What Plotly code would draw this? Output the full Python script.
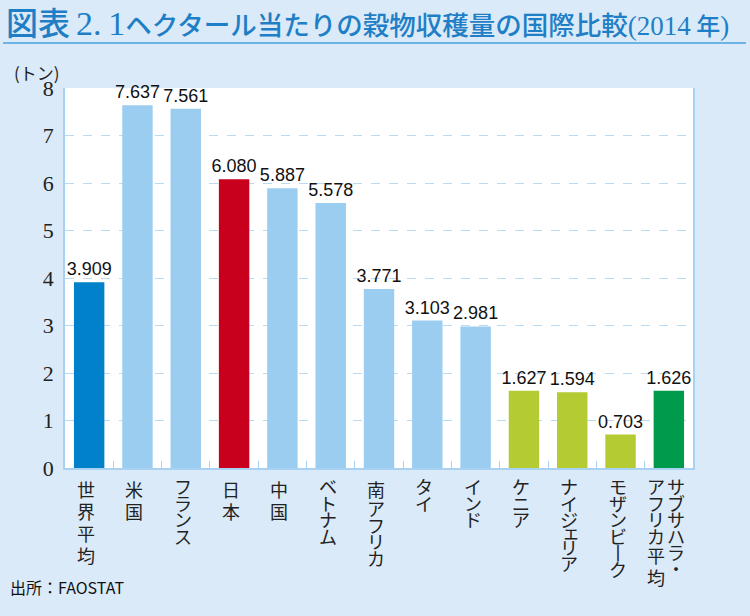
import plotly.graph_objects as go

categories = ["世界平均", "米国", "フランス", "日本", "中国", "ベトナム", "南アフリカ",
              "タイ", "インド", "ケニア", "ナイジェリア", "モザンビーク", "サブサハラ・アフリカ平均"]
values = [3.909, 7.637, 7.561, 6.080, 5.887, 5.578, 3.771, 3.103, 2.981, 1.627, 1.594, 0.703, 1.626]
groups = ["world", "dev", "dev", "japan", "dev", "dev", "dev", "dev", "dev",
          "africa", "africa", "africa", "ssa"]
group_colors = {"world": "#0081C9", "dev": "#9BCDF1", "japan": "#C8001E",
                "africa": "#B5CB33", "ssa": "#009A4B"}
y_ticks = [0, 1, 2, 3, 4, 5, 6, 7, 8]

W, H = 750, 616
ML, MR, MT, MB = 65, 57, 88, 148
PW, PH = W - ML - MR, H - MT - MB


def px(x):
    return (x - ML) / PW


def py(y):
    return (H - MB - y) / PH


def columns(label):
    """Split a label into vertical writing columns (right column first)."""
    label = label.replace("ー", "丨")
    if "・" in label and len(label) > 8:
        right, left = label.split("・")
        return [right + "・", left]
    return [label]


SMALL = "ァィゥェォャュョッ"


def advance(ch):
    if ch in SMALL:
        return 11.0
    if ch == "・":
        return 14.0
    if "\u30a0" <= ch <= "\u30ff" or ch == "丨":
        return 16.5
    return 22.0


colors = [group_colors[g] for g in groups]

fig = go.Figure()
fig.add_trace(go.Bar(
    x=categories, y=values,
    marker=dict(color=colors, line=dict(width=0)),
    texttemplate="%{y:.3f}", textposition="outside", constraintext="none",
    textfont=dict(family="Liberation Sans Narrow, Liberation Sans, Arial", size=18, color="#111111"),
    cliponaxis=False,
    hoverinfo="skip",
))

fig.update_layout(
    width=W, height=H,
    margin=dict(l=ML, r=MR, t=MT, b=MB, autoexpand=False),
    paper_bgcolor="#DAEAF8",
    plot_bgcolor="#FFFFFF",
    bargap=0.37,
    showlegend=False,
    xaxis=dict(
        showticklabels=False, automargin=False,
        showline=True, linecolor="#A9D2F2", linewidth=1.5,
        ticks="inside", tickson="boundaries", ticklen=7, tickcolor="#A9D2F2", tickwidth=1,
        showgrid=False,
    ),
    yaxis=dict(
        range=[0, 8], tickvals=y_ticks, automargin=False,
        tickfont=dict(family="Liberation Serif, DejaVu Serif", size=22, color="#222222"),
        showline=True, linecolor="#A9D2F2", linewidth=1.5, mirror=True,
        showgrid=True, gridcolor="#B9DAF3", griddash="dash", gridwidth=1,
        zeroline=False, ticks="", ticklabelstandoff=5,
    ),
)

# vertical category labels (one character per annotation, columns right-to-left)
for cat in categories:
    cols = columns(cat)
    n = len(cols)
    for ci, col in enumerate(cols):
        xshift = ((n - 1) / 2 - ci) * 20 - 3
        ytop = 478.0
        for ch in col:
            a = advance(ch)
            small = ch in SMALL
            fig.add_annotation(
                x=cat, xref="x", yref="paper", y=py(ytop + a / 2 - (2 if small else 0)),
                xshift=xshift + (2 if small else 0), text=ch, showarrow=False,
                xanchor="center", yanchor="middle",
                font=dict(family="Noto Sans CJK JP", size=18, color="#222222"),
            )
            ytop += a

# title
serif = "font-family:Liberation Serif, DejaVu Serif;font-weight:normal"
fig.add_annotation(
    xref="paper", yref="paper", x=px(4), y=py(21), xanchor="left", yanchor="middle",
    text=("<span style='font-size:32px'>図表</span> "
          "<span style='%s;font-size:34px'>2.&#8201;1</span>"
          "ヘクタール当たりの穀物収穫量の国際比較"
          "<span style='%s;font-size:27px'>(2014&#8201;</span><span style='font-size:24px'>年</span>"
          "<span style='%s;font-size:27px'>)</span>") % (serif, serif, serif),
    showarrow=False,
    font=dict(family="Noto Sans CJK JP", size=26.5, color="#1F7FC6", weight=500),
)
fig.add_shape(type="line", xref="paper", yref="paper",
              x0=px(3), x1=px(746), y0=py(43), y1=py(43),
              line=dict(color="#6DB3E6", width=2))
# unit label
fig.add_annotation(
    xref="paper", yref="paper", x=px(12), y=py(72), xanchor="left", yanchor="middle",
    text="(トン)", showarrow=False,
    font=dict(family="Noto Sans CJK JP", size=17, color="#222222"),
)
# source
fig.add_annotation(
    xref="paper", yref="paper", x=px(8), y=py(587), xanchor="left", yanchor="middle",
    text="出所：FAOSTAT", showarrow=False,
    font=dict(family="Noto Sans CJK JP", size=16, color="#111111"),
)

fig.write_html("out.html", config={"displayModeBar": False},
               post_script="document.body.style.margin='0';document.body.style.overflow='hidden';")
